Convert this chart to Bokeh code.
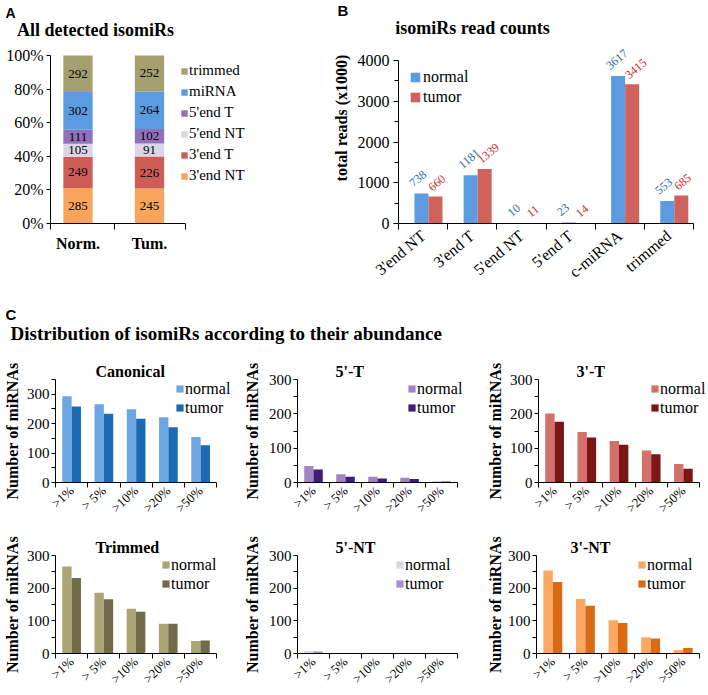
import math
from bokeh.plotting import figure
from bokeh.models import (FixedTicker, Label, Legend, LegendItem, ColumnDataSource, Range1d)
from bokeh.layouts import row, column
from bokeh.embed import file_html
from bokeh.resources import INLINE
from bokeh.core.properties import value
from bokeh.core.validation import silence
from bokeh.core.validation.warnings import MISSING_RENDERERS

silence(MISSING_RENDERERS, True)

SERIF = "Liberation Serif"
SANS = "Liberation Sans"

# ---------------- data ----------------
# Panel A: all detected isomiRs (stacked, bottom -> top)
a_groups = ["Norm.", "Tum."]
a_types = ["3'end NT", "3'end T", "5'end NT", "5'end T", "miRNA", "trimmed"]
a_normal = [285, 249, 105, 111, 302, 292]
a_tumor = [245, 226, 91, 102, 264, 252]
a_colors = ["#F8A55B", "#CE5D58", "#DCD5E8", "#9070B8", "#5B9BE0", "#A59E6E"]
a_y_ticks = [0, 20, 40, 60, 80, 100]

# Panel B: isomiRs read counts (x1000)
b_categories = ["3'end NT", "3'end T", "5'end NT", "5'end T", "c-miRNA", "trimmed"]
b_normal = [738, 1181, 10, 23, 3617, 553]
b_tumor = [660, 1339, 11, 14, 3415, 685]
b_y_ticks = [0, 1000, 2000, 3000, 4000]

# Panel C: distribution according to abundance
c_bins = [">1%", "> 5%", ">10%", ">20%", ">50%"]
c_y_ticks = [0, 100, 200, 300]
canonical_normal = [293, 266, 249, 222, 155]
canonical_tumor = [258, 234, 217, 188, 127]
t5_normal = [48, 24, 17, 14, 3]
t5_tumor = [38, 17, 12, 10, 3]
t3_normal = [201, 147, 121, 93, 54]
t3_tumor = [177, 131, 110, 82, 40]
trimmed_normal = [266, 186, 137, 91, 38]
trimmed_tumor = [231, 166, 128, 91, 40]
nt5_normal = [8, 1, 1, 0, 0]
nt5_tumor = [6, 1, 0, 0, 0]
nt3_normal = [254, 167, 102, 50, 11]
nt3_tumor = [219, 146, 93, 46, 17]
series_labels = ["normal", "tumor"]


# ---------------- helpers ----------------
def base_fig(w, h, left, right, top, bottom, xr, yr):
    p = figure(width=w, height=h, x_range=xr, y_range=yr, output_backend="svg",
               toolbar_location=None, min_border_left=left, min_border_right=right,
               min_border_top=top, min_border_bottom=bottom, title_location=None)
    p.outline_line_color = None
    p.xgrid.visible = False
    p.ygrid.visible = False
    for ax in p.axis:
        ax.axis_line_color = "black"
        ax.major_tick_line_color = "black"
        ax.minor_tick_line_color = "black"
        ax.major_tick_in = 0
        ax.minor_tick_in = 0
        ax.major_label_text_font = SERIF
        ax.major_label_text_color = "black"
        ax.axis_label_text_font = SERIF
        ax.axis_label_text_font_style = "bold"
        ax.axis_label_text_color = "black"
    return p


def strip_fig(w, h):
    p = figure(width=w, height=h, x_range=(0, 1), y_range=(0, 1), x_axis_type=None,
               y_axis_type=None, output_backend="svg", toolbar_location=None,
               min_border=0, title_location=None)
    p.outline_line_color = None
    p.xgrid.visible = False
    p.ygrid.visible = False
    return p


def screen_label(p, x, y, text, size, font=SERIF, bold=True, align="left",
                 baseline="middle", angle=0.0):
    p.add_layout(Label(x=x, y=y, x_units="screen", y_units="screen", text=text,
                       text_font=font, text_font_size=f"{size}px",
                       text_font_style="bold" if bold else "normal",
                       text_align=align, text_baseline=baseline, angle=angle,
                       text_color="black"))


def legend_style(**kw):
    base = dict(padding=0, margin=0, label_text_font=SERIF, label_text_color="black",
                border_line_color=None, background_fill_alpha=0)
    base.update(kw)
    return base


def add_legend(p, items, left, top, frame_h, item_h, spacing, glyph, font_size, standoff):
    n = len(items)
    leg_h = n * item_h + (n - 1) * spacing
    p.add_layout(Legend(items=items, location=(left, frame_h - top - leg_h),
                        **legend_style(spacing=spacing, label_height=item_h,
                                       glyph_height=glyph, glyph_width=glyph,
                                       label_standoff=standoff,
                                       label_text_font_size=f"{font_size}px")))


# ---------------- top strip (A / B headings) ----------------
top_strip = strip_fig(708, 42)
screen_label(top_strip, 5, 29.5, "A", 14, font=SANS)
screen_label(top_strip, 95, 13, "All detected isomiRs", 18, align="center")
screen_label(top_strip, 337, 32.5, "B", 15, font=SANS)
screen_label(top_strip, 472, 15, "isomiRs read counts", 18, align="center")

# ---------------- Panel A ----------------
AB_Y0, AB_H = 42, 248
FR_TOP, FR_BOT = 48, 223
A_W = 252
a_px_per = (FR_BOT - 55) / 100.0
a_unit, a_c0 = 71.5, 77.5
a_xs = (50 - a_c0) / a_unit
a_xe = (A_W - a_c0) / a_unit
a_axis_end = (185 - a_c0) / a_unit
a_mid = (114 - a_c0) / a_unit
pa = base_fig(A_W, AB_H, 50, 0, FR_TOP - AB_Y0, AB_Y0 + AB_H - FR_BOT,
              Range1d(a_xs, a_xe), Range1d(0, 100 + (55 - FR_TOP) / a_px_per))
a_x = [0, 1]
totals = [sum(a_normal), sum(a_tumor)]
cols = {t: [a_normal[i] / totals[0] * 100, a_tumor[i] / totals[1] * 100]
        for i, t in enumerate(a_types)}
src_a = ColumnDataSource(dict(x=a_x, **cols))
rs_a = pa.vbar_stack(a_types, x="x", width=0.41, color=a_colors, source=src_a,
                     line_color=None)
lx, ly, lt = [], [], []
for gi, counts in enumerate([a_normal, a_tumor]):
    cum = 0.0
    for c in counts:
        pc = c / totals[gi] * 100
        lx.append(a_x[gi]); ly.append(cum + pc / 2); lt.append(str(c))
        cum += pc
pa.text(x=lx, y=ly, text=lt, text_font=value(SERIF), text_font_size="13px",
        text_align="center", text_baseline="middle", text_color="black")
pa.yaxis.ticker = FixedTicker(ticks=a_y_ticks, minor_ticks=[])
pa.yaxis.bounds = (0, 100)
pa.yaxis.major_label_overrides = {t: f"{t}%" for t in a_y_ticks}
pa.yaxis.major_label_text_font_size = "16px"
pa.yaxis.major_tick_out = 4
pa.yaxis.major_label_standoff = 3
pa.xaxis.ticker = FixedTicker(ticks=a_x, minor_ticks=[a_xs + 0.002, a_mid, a_axis_end - 0.002])
pa.xaxis.bounds = (a_xs, a_axis_end)
pa.xaxis.major_label_overrides = {a_x[i]: a_groups[i] for i in range(2)}
pa.xaxis.major_label_text_font_size = "16px"
pa.xaxis.major_label_text_font_style = "bold"
pa.xaxis.major_tick_out = 0
pa.xaxis.minor_tick_out = 6
pa.xaxis.major_label_standoff = 5
items_a = [LegendItem(label=a_types[i], renderers=[rs_a[i]]) for i in reversed(range(6))]
add_legend(pa, items_a, 130, 12, FR_BOT - FR_TOP, 21, 0, 8, 15, 1)

# ---------------- Panel B ----------------
B_W = 708 - A_W
b_px_per = (FR_BOT - 60) / 4000.0
pb = base_fig(B_W, AB_H, 398 - A_W, 15, FR_TOP - AB_Y0, AB_Y0 + AB_H - FR_BOT,
              Range1d(-0.5, 5.5), Range1d(0, 4000 + (60 - FR_TOP) / b_px_per))
bx = list(range(len(b_categories)))
BW, OFF_N, OFF_T = 0.285, -0.033, 0.252
rn = pb.vbar(x=[i + OFF_N for i in bx], top=b_normal, width=BW, color="#5B9BE0",
             line_color=None)
rt = pb.vbar(x=[i + OFF_T for i in bx], top=b_tumor, width=BW, color="#D0625C",
             line_color=None)
for i in bx:
    pb.add_layout(Label(x=i + OFF_N - BW / 2, y=b_normal[i], text=str(b_normal[i]),
                        x_offset=-3.5, y_offset=9, angle=0.7, text_font=SERIF,
                        text_font_size="12px", text_color="#2E6DA8",
                        text_align="left", text_baseline="middle"))
    pb.add_layout(Label(x=i + OFF_T - BW / 2, y=b_tumor[i], text=str(b_tumor[i]),
                        x_offset=1.5, y_offset=8, angle=0.7, text_font=SERIF,
                        text_font_size="12px", text_color="#C8302C",
                        text_align="left", text_baseline="middle"))
pb.yaxis.ticker = FixedTicker(ticks=b_y_ticks,
                              minor_ticks=[(b_y_ticks[k] + b_y_ticks[k + 1]) / 2
                                           for k in range(len(b_y_ticks) - 1)])
pb.yaxis.bounds = (0, 4000)
pb.yaxis.major_label_text_font_size = "16px"
pb.yaxis.major_tick_out = 5
pb.yaxis.minor_tick_out = 4
pb.yaxis.major_label_standoff = 4
# leading no-break spaces lift the centred rotated label as in the original
pb.yaxis.axis_label = "\u00a0" * 9 + "total reads (x1000)"
pb.yaxis.axis_label_text_font_size = "16px"
pb.yaxis.axis_label_standoff = 5
pb.xaxis.ticker = FixedTicker(ticks=bx, minor_ticks=[i - 0.5 for i in bx] + [len(bx) - 0.5])
pb.xaxis.major_label_overrides = {i: b_categories[i] for i in bx}
pb.xaxis.major_label_orientation = 0.7
pb.xaxis.major_label_text_font_size = "16px"
pb.xaxis.major_tick_out = 0
pb.xaxis.minor_tick_out = 6
pb.xaxis.major_label_standoff = 4
add_legend(pb, [LegendItem(label=series_labels[0], renderers=[rn]),
                LegendItem(label=series_labels[1], renderers=[rt])],
           11, 19, FR_BOT - FR_TOP, 20, 0, 12, 16, 2)

# ---------------- Panel C header ----------------
c_head = strip_fig(708, 57)
screen_label(c_head, 5, 33, "C", 15, font=SANS)
screen_label(c_head, 10, 14.3, "Distribution of isomiRs according to their abundance", 19)

# ---------------- Panel C subplots ----------------
C_GLYPH, C_STANDOFF, C_TEXT_W = 9, 1, 47


def make_c(title, normal, tumor, colors, fig_x0, fig_w, fig_y0, fig_h,
           axis_l, axis_r, frame_t, frame_b, ymax,
           title_off, ylab_standoff, leg_x, leg_top):
    n = len(c_bins)
    cw = (axis_r - axis_l) / n
    frame_r = max(axis_r, axis_l + leg_x + C_GLYPH + C_STANDOFF + C_TEXT_W + leg_top)
    frame_r = min(frame_r, fig_x0 + fig_w)
    p = base_fig(fig_w, fig_h, axis_l - fig_x0, fig_x0 + fig_w - frame_r,
                 frame_t - fig_y0, fig_y0 + fig_h - frame_b,
                 Range1d(-0.5, n - 0.5 + (frame_r - axis_r) / cw), Range1d(0, ymax))
    p.title_location = "above"
    p.title.text = title
    p.title.align = "left"
    p.title.offset = title_off
    p.title.standoff = 0
    p.title.text_font = SERIF
    p.title.text_font_size = "16px"
    p.title.text_font_style = "bold"
    p.title.text_color = "black"
    cx = list(range(n))
    r1 = p.vbar(x=[i - 0.145 for i in cx], top=normal, width=0.29, color=colors[0],
                line_color=None)
    r2 = p.vbar(x=[i + 0.145 for i in cx], top=tumor, width=0.29, color=colors[1],
                line_color=None)
    p.yaxis.ticker = FixedTicker(ticks=c_y_ticks,
                                 minor_ticks=[t + 50 for t in c_y_ticks if t + 50 <= ymax])
    p.yaxis.major_label_text_font_size = "15px"
    p.yaxis.major_tick_out = 4
    p.yaxis.minor_tick_out = 4
    p.yaxis.major_label_standoff = 2
    p.yaxis.axis_label = "Number of miRNAs"
    p.yaxis.axis_label_text_font_size = "16px"
    p.yaxis.axis_label_standoff = ylab_standoff
    p.xaxis.ticker = FixedTicker(ticks=cx, minor_ticks=[i - 0.5 for i in cx] + [n - 0.5])
    p.xaxis.bounds = (-0.5, n - 0.5)
    p.xaxis.major_label_overrides = {i: c_bins[i] for i in cx}
    p.xaxis.major_label_orientation = 0.75
    p.xaxis.major_label_text_font_size = "13px"
    p.xaxis.major_tick_out = 0
    p.xaxis.minor_tick_out = 5
    p.xaxis.major_label_standoff = 1
    # legend anchored to the frame's top-right corner so that it keeps its place
    frame_w = frame_r - axis_l
    label_w = frame_w - leg_top - leg_x - C_GLYPH - C_STANDOFF
    p.add_layout(Legend(items=[LegendItem(label=series_labels[0], renderers=[r1]),
                               LegendItem(label=series_labels[1], renderers=[r2])],
                        location="top_right",
                        **legend_style(padding=leg_top, spacing=-3, label_height=19,
                                       label_width=int(label_w),
                                       glyph_height=C_GLYPH, glyph_width=C_GLYPH,
                                       label_standoff=C_STANDOFF,
                                       label_text_font_size="16px")))
    return p


C1_X0, C1_W = 0, 240
C2_X0, C2_W = 240, 230
C3_X0, C3_W = 470, 238
R1_Y0, R1_H = 347, 176
R2_Y0, R2_H = 523, 171
c1 = make_c("Canonical", canonical_normal, canonical_tumor, ("#6DA7E3", "#1E6AB2"),
            C1_X0, C1_W, R1_Y0, R1_H, 52, 216, 379, 483, 350, 40, 3, 114, 9)
c2 = make_c("5'-T", t5_normal, t5_tumor, ("#9E86C6", "#3E1C7A"),
            C2_X0, C2_W, R1_Y0, R1_H, 295, 457, 379, 483, 300, 38, 5, 112, 0)
c3 = make_c("3'-T", t3_normal, t3_tumor, ("#D4706A", "#7A1616"),
            C3_X0, C3_W, R1_Y0, R1_H, 538, 699, 379, 483, 300, 38, 3, 112, 0)
c4 = make_c("Trimmed", trimmed_normal, trimmed_tumor, ("#ABA475", "#716B4B"),
            C1_X0, C1_W, R2_Y0, R2_H, 53, 216, 555, 660, 300, 40, 3, 100, 8)
c5 = make_c("5'-NT", nt5_normal, nt5_tumor, ("#DBD5E7", "#A78DD3"),
            C2_X0, C2_W, R2_Y0, R2_H, 295, 457, 555, 660, 300, 38, 5, 100, 0)
c6 = make_c("3'-NT", nt3_normal, nt3_tumor, ("#FBA862", "#DA6A14"),
            C3_X0, C3_W, R2_Y0, R2_H, 536, 699, 555, 660, 300, 34, 1, 101, 0)

layout = column(top_strip, row(pa, pb), c_head, row(c1, c2, c3), row(c4, c5, c6))
open("out.html", "w").write(file_html(layout, INLINE))
